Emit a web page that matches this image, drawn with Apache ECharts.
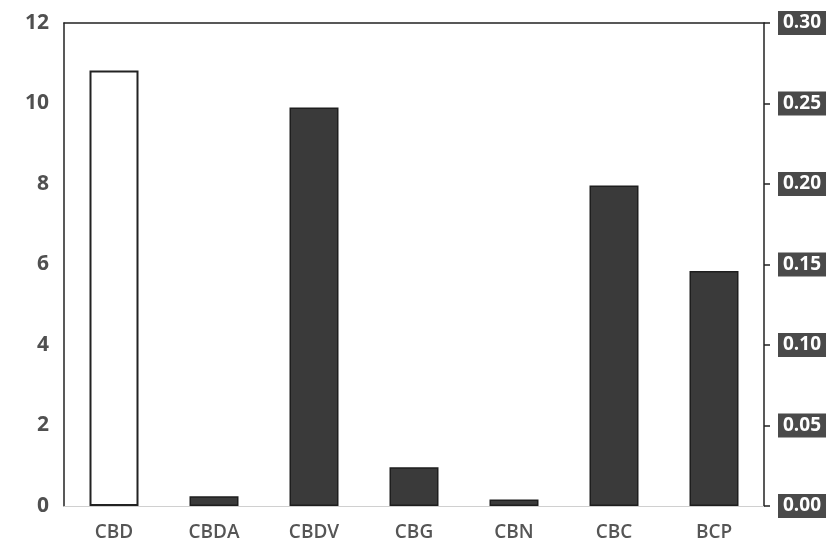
<!DOCTYPE html>
<html>
<head>
<meta charset="utf-8">
<script src="https://cdn.jsdelivr.net/npm/echarts@6/dist/echarts.min.js"></script>
<style>html,body{margin:0;padding:0;background:#fff}#c{width:839px;height:550px}</style>
</head>
<body>
<div id="c"></div>
<script>
const categories = ['CBD', 'CBDA', 'CBDV', 'CBG', 'CBN', 'CBC', 'BCP'];
const leftValues = [10.82, '-', '-', '-', '-', '-', '-'];
const rightValues = ['-', 0.006, 0.2475, 0.024, 0.004, 0.199, 0.146];
const leftTicks = { min: 0, max: 12, interval: 2 };
const rightTicks = { min: 0, max: 0.30, interval: 0.05 };

const chart = echarts.init(document.getElementById('c'));
chart.setOption({
  animation: false,
  backgroundColor: '#fff',
  grid: { left: 64, right: 75, top: 23, bottom: 44 },
  xAxis: [{
    type: 'category',
    data: categories,
    axisLine: { show: true, onZero: false, lineStyle: { color: '#d0d0d0', width: 1 } },
    axisTick: { show: false },
    axisLabel: { color: '#555', fontSize: 19, fontWeight: 600, fontFamily: 'Open Sans', margin: 17 }
  }, {
    type: 'category',
    position: 'top',
    data: categories,
    axisLine: { show: true, onZero: false, lineStyle: { color: '#222', width: 1.5 } },
    axisTick: { show: false },
    axisLabel: { show: false }
  }],
  yAxis: [{
    type: 'value',
    min: leftTicks.min, max: leftTicks.max, interval: leftTicks.interval,
    axisLine: { show: true, lineStyle: { color: '#222', width: 1.5 } },
    axisTick: { show: false },
    splitLine: { show: false },
    axisLabel: { color: '#505050', fontSize: 21, fontWeight: 'bold', fontFamily: 'Open Sans', margin: 15 }
  }, {
    type: 'value',
    position: 'right',
    min: rightTicks.min, max: rightTicks.max, interval: rightTicks.interval,
    axisLine: { show: true, lineStyle: { color: '#222', width: 1.5 } },
    axisTick: { show: true, inside: false, length: 6, lineStyle: { color: '#222', width: 1.5 } },
    splitLine: { show: false },
    axisLabel: {
      color: '#fff', fontSize: 19, fontWeight: 'bold', fontFamily: 'Open Sans', margin: 14,
      backgroundColor: '#4a4a4a', padding: [3, 5, 2, 5],
      formatter: v => v.toFixed(2)
    }
  }],
  series: [{
    type: 'bar',
    xAxisIndex: 0, yAxisIndex: 0,
    data: leftValues,
    barWidth: 49,
    barGap: '-100%',
    itemStyle: { color: '#fff', borderColor: '#222', borderWidth: 2 }
  }, {
    type: 'bar',
    xAxisIndex: 0, yAxisIndex: 1,
    data: rightValues,
    barWidth: 49,
    barGap: '-100%',
    itemStyle: { color: '#3a3a3a', borderColor: '#1e1e1e', borderWidth: 1.5 }
  }]
});
</script>
</body>
</html>
